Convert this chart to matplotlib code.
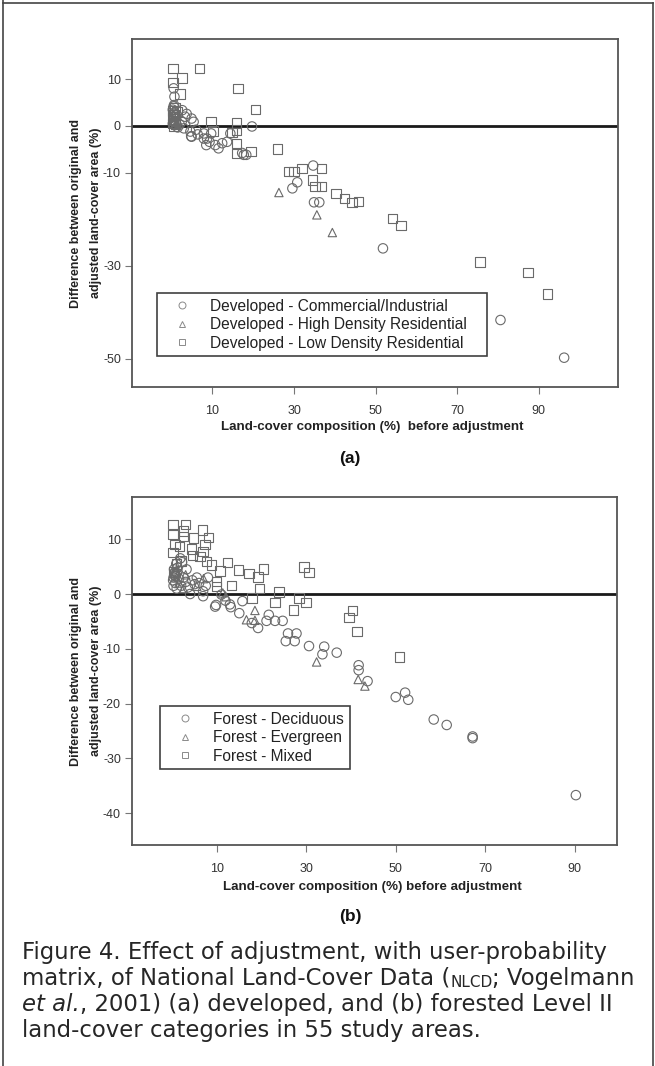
import matplotlib
matplotlib.use("Agg")
import matplotlib.pyplot as plt
from matplotlib.lines import Line2D

plt.rcParams['font.family'] = ['Liberation Sans', 'DejaVu Sans']

# ---- (a) developed ----
com_x = [0.3, 0.4, 0.5, 0.6, 0.3, 0.5, 0.7, 0.8, 1.0, 1.2, 0.5, 0.7, 0.6,
         2.6, 3.7, 4.9, 5.4, 4.6, 4.9, 7.9, 8.7, 7.9, 9.7, 9.3, 10.7, 12.4,
         13.6, 14.4, 11.5, 17.3, 18.3, 19.7, 17.7, 8.5, 4.8, 6.4, 2.0, 3.0,
         1.5, 2.5, 6.0, 3.3,
         30.8, 29.6, 34.7, 34.9, 36.2, 51.8, 80.6, 96.2]
com_y = [0.5, 1.2, 2.0, 2.8, 3.5, 4.2, 0.2, 1.6, 0.8, 2.4, 8.1, 6.3, 4.5,
         3.4, 2.6, 1.6, 0.9, -1.2, -2.3, -1.6, -2.7, -2.7, -1.6, -3.4, -4.1, -3.7,
         -3.4, -1.6, -4.8, -5.8, -6.2, -0.1, -6.2, -4.1, -2.2, -1.8, 0.3, -0.5,
         -0.3, 1.0, -0.8, 2.0,
         -12.1, -13.4, -8.5, -16.4, -16.4, -26.3, -41.7, -49.8]

hdr_x = [0.5, 1.0, 0.3, 1.8, 26.3, 35.6, 39.4]
hdr_y = [1.0, 0.3, 2.5, 0.6, -14.3, -19.1, -22.9]

ldr_x = [0.3, 6.9, 2.6, 0.3, 2.1, 16.3, 20.5, 9.7, 15.9, 15.9, 10.2, 14.8,
         15.9, 15.9, 19.5, 25.9, 28.6, 30.0, 32.0, 36.8, 34.5, 35.1, 36.7,
         40.3, 42.4, 44.2, 45.8, 54.2, 56.2, 75.6, 87.3, 92.1,
         0.2, 0.4, 0.6, 0.3, 0.8, 0.5, 1.0, 0.2, 1.3, 0.9]
ldr_y = [12.4, 12.4, 10.3, 9.3, 6.9, 8.0, 3.6, 0.9, 0.6, -0.9, -1.1, -1.4,
         -3.7, -5.9, -5.5, -4.9, -9.8, -9.8, -9.1, -9.1, -11.6, -13.0, -13.0,
         -14.5, -15.6, -16.5, -16.2, -19.9, -21.4, -29.2, -31.5, -36.1,
         0.5, 1.5, 2.5, 3.2, 4.0, 0.0, 1.0, 2.0, 3.0, 0.3]

# ---- (b) forested ----
dec_x = [0.3, 0.5, 0.6, 0.4, 0.8, 0.2, 0.7, 1.0, 1.2, 0.9, 1.5, 2.0, 2.5,
         3.0, 3.5, 4.0, 4.5, 5.0, 5.5, 6.0, 6.9, 6.9, 1.0, 2.2, 3.2, 1.8,
         0.3, 7.5, 8.0, 0.5, 0.6,
         9.6, 9.8, 11.0, 11.9, 12.9, 13.1, 15.0, 15.7, 17.8, 19.2, 21.1, 21.6,
         23.0, 24.7, 25.9, 27.8, 25.4, 27.4, 30.6, 34.0, 33.6, 36.8, 41.7,
         41.7, 43.7, 50.0, 52.1, 52.8, 58.5, 61.4, 67.2, 67.2, 90.3]
dec_y = [3.0, 3.5, 4.0, 4.5, 3.2, 2.5, 2.0, 3.8, 4.8, 5.5, 2.8, 1.5, 3.0,
         2.2, 1.2, 0.0, 2.5, 1.8, 3.0, 2.0, 0.5, -0.4, 1.0, 5.8, 4.5, 6.5,
         1.5, 1.5, 3.0, 3.8, 3.3,
         -2.3, -2.0, -0.1, -1.2, -1.9, -2.4, -3.5, -1.3, -5.3, -6.2, -4.9, -3.8,
         -4.9, -4.9, -7.2, -7.2, -8.6, -8.6, -9.5, -9.6, -11.0, -10.7, -13.0,
         -13.9, -15.9, -18.8, -18.0, -19.3, -22.9, -23.9, -26.0, -26.3, -36.7]

evg_x = [5.5, 11.3, 12.0, 16.6, 18.5, 18.5, 32.3, 41.6, 43.1, 3.0, 1.5, 2.5, 0.8, 7.0]
evg_y = [1.4, 0.2, -0.5, -4.7, -3.0, -4.8, -12.4, -15.6, -16.8, 3.5, 2.0, 1.0, 4.2, 2.8]

mix_x = [0.2, 3.0, 0.2, 2.5, 2.5, 4.7, 6.8, 8.1, 0.6, 1.6, 4.3, 7.3, 6.9,
         0.2, 4.5, 6.2, 7.7, 8.8, 12.3, 14.8, 17.2, 19.2, 20.4, 29.5, 30.6,
         10.7, 9.9, 9.9, 13.3, 19.5, 23.9, 17.8, 23.0, 28.4, 29.9, 27.1,
         40.3, 39.5, 41.3, 50.9, 1.0, 2.0, 0.3]
mix_y = [12.7, 12.7, 10.9, 11.5, 10.5, 10.2, 11.7, 10.3, 9.0, 8.7, 8.2, 9.0, 7.8,
         7.6, 7.0, 6.8, 5.9, 5.3, 5.8, 4.4, 3.7, 3.1, 4.6, 4.9, 3.9,
         4.2, 2.3, 1.4, 1.6, 1.0, 0.4, -0.7, -1.6, -0.7, -1.6, -2.9,
         -3.0, -4.3, -6.8, -11.5, 5.5, 6.0, 4.0]

xticks = [10, 30, 50, 70, 90]
ylabel = "Difference between original and\nadjusted land-cover area (%)"
mcol = '#6a6a6a'

W, H = 655, 1066
fig = plt.figure(figsize=(W / 100, H / 100), dpi=100)


def px_box(l, t, r, b):
    return [l / W, 1 - b / H, (r - l) / W, (b - t) / H]


def style(ax, xlim, ylim, yticks, yticklabels):
    ax.set_xlim(xlim)
    ax.set_ylim(ylim)
    ax.set_xticks(xticks)
    ax.set_yticks(yticks)
    ax.set_yticklabels(yticklabels)
    ax.axhline(0, color='#1a1a1a', lw=2, zorder=2)
    for s in ax.spines.values():
        s.set_color('#555555')
        s.set_linewidth(1.3)
    ax.tick_params(direction='out', length=5, width=0.8, color='#777777',
                   labelsize=9, labelcolor='#333333')
    ax.tick_params(axis='x', pad=8)
    ax.tick_params(axis='y', pad=3)


def pts(ax, x, y, m, s=46):
    ax.scatter(x, y, marker=m, s=s, facecolors='none', edgecolors=mcol,
               linewidths=0.8, zorder=3)


def legend(ax, labels, box):
    handles = [Line2D([], [], marker=m, ls='none', mfc='none', mec='#8a8a8a',
                      ms=5, mew=0.7) for m in ['o', '^', 's']]
    lg = ax.legend(handles, labels, loc='lower left', bbox_to_anchor=box,
                   mode='expand', borderaxespad=0, fontsize=11.2, frameon=True,
                   fancybox=False, borderpad=0.35, handlelength=2.5,
                   handletextpad=0.55, labelspacing=0.22)
    lg.get_frame().set_edgecolor('#111111')
    lg.get_frame().set_linewidth(1.2)
    for t in lg.get_texts():
        t.set_color('#222222')


# panel (a)
ax1 = fig.add_axes(px_box(132, 39, 618, 387))
pts(ax1, com_x, com_y, 'o')
pts(ax1, hdr_x, hdr_y, '^', 36)
pts(ax1, ldr_x, ldr_y, 's')
style(ax1, (-9.7, 109.4), (-56.1, 18.7), [10, 0, -10, -30, -50],
      ['10', '0', '-10', '-30', '-50'])
legend(ax1, ['Developed - Commercial/Industrial',
             'Developed - High Density Residential',
             'Developed - Low Density Residential'], (0.051, 0.089, 0.679, 0.178))

# panel (b)
ax2 = fig.add_axes(px_box(132, 497, 617, 845))
pts(ax2, dec_x, dec_y, 'o')
pts(ax2, evg_x, evg_y, '^', 36)
pts(ax2, mix_x, mix_y, 's')
style(ax2, (-9.0, 99.5), (-45.8, 17.7), [10, 0, -10, -20, -30, -40],
      ['10', '0', '-10', '-20', '-30', '-40'])
legend(ax2, ['Forest - Deciduous', 'Forest - Evergreen', 'Forest - Mixed'],
       (0.058, 0.218, 0.392, 0.179))

# axis titles and panel letters
for yc, xl, ylc, tag, tagy in [(427, "Land-cover composition (%)  before adjustment", 213, '(a)', 458),
                               (887, "Land-cover composition (%) before adjustment", 671, '(b)', 916)]:
    fig.text(372 / W, 1 - yc / H, xl, ha='center', va='center',
             fontsize=9.6, fontweight='bold', color='#222222')
    fig.text(86 / W, 1 - ylc / H, ylabel, ha='center', va='center',
             rotation=90, fontsize=9, fontweight='bold', color='#222222',
             linespacing=1.85, multialignment='center')
    fig.text(350 / W, 1 - tagy / H, tag, ha='center', va='center',
             fontsize=12.5, fontweight='bold', color='#111111')

# caption
cap = dict(fontsize=16.4, color='#262626', family=['DejaVu Sans'])
x0 = 22 / W
fig.text(x0, 1 - 959 / H, "Figure 4. Effect of adjustment, with user-probability",
         va='baseline', **cap)
t1 = fig.text(x0, 1 - 985 / H, "matrix, of National Land-Cover Data (",
              va='baseline', **cap)
n = plt.annotate("NLCD", xy=(1, 0), xycoords=t1, va='bottom', fontsize=11,
                 color='#262626', family=['DejaVu Sans'])
plt.annotate("; Vogelmann", xy=(1, 0), xycoords=(n, t1), va='bottom', **cap)
t3 = fig.text(x0, 1 - 1011 / H, "et al.", style='italic', va='baseline', **cap)
plt.annotate(", 2001) (a) developed, and (b) forested Level II", xy=(1, 0),
             xycoords=t3, va='bottom', **cap)
fig.text(x0, 1 - 1037 / H, "land-cover categories in 55 study areas.",
         va='baseline', **cap)

# page frame
for xs, ys in [([2.5, 2.5], [0, 1066]), ([2.5, 652.5], [2.5, 2.5]), ([652.5, 652.5], [2.5, 1066])]:
    fig.add_artist(Line2D([v / W for v in xs], [1 - v / H for v in ys],
                          color='#444444', lw=1.2))

fig.savefig('out.png', dpi=100)
